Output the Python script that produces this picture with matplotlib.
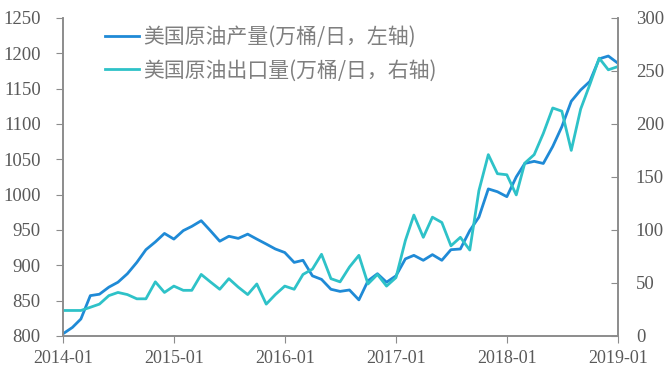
#!/usr/bin/env python3

import numpy as np
import pandas as pd
import matplotlib
matplotlib.use("Agg")
import matplotlib.pyplot as plt
import matplotlib.dates as mdates

#-------------------------------------------------------------
# monthly data, 2014-01 .. 2019-01
months = pd.date_range("2014-01-01", "2019-01-01", freq="MS")

# US crude oil production (10k bbl/day, left axis)
production = [803, 812, 824, 857, 859, 869, 876, 888, 904, 922, 933, 945,
              937, 949, 955, 963, 949, 934, 941, 938, 944, 937, 930, 923,
              918, 904, 907, 885, 880, 866, 863, 865, 851, 878, 888, 876,
              885, 909, 914, 907, 915, 907, 922, 923, 949, 968, 1008, 1004,
              997, 1025, 1044, 1047, 1044, 1068, 1096, 1132, 1148, 1160, 1192, 1196,
              1186]

# US crude oil exports (10k bbl/day, right axis)
exports = [24, 24, 24, 27, 30, 38, 41, 39, 35, 35, 51, 41,
           47, 43, 43, 58, 51, 44, 54, 46, 39, 49, 30, 39,
           47, 44, 58, 63, 77, 54, 51, 65, 76, 49, 58, 47,
           55, 90, 114, 93, 112, 107, 85, 93, 81, 137, 171, 153,
           152, 133, 163, 171, 191, 215, 212, 175, 214, 237, 262, 251,
           254]

label_prod = "美国原油产量(万桶/日，左轴)"
label_exp = "美国原油出口量(万桶/日，右轴)"

left_ticks = [800, 850, 900, 950, 1000, 1050, 1100, 1150, 1200, 1250]
right_ticks = [0, 50, 100, 150, 200, 250, 300]
x_ticks = pd.date_range("2014-01-01", "2019-01-01", freq="YS")

#-------------------------------------------------------------
def main():
    plt.rcParams['font.family'] = ['Liberation Serif', 'Noto Sans CJK SC', 'DejaVu Sans']
    grey = "#595959"
    spine = "#8c8c8c"

    fig = plt.figure(figsize=(6.7, 3.8), dpi=100)
    ax = fig.add_axes([0.094, 0.116, 0.828, 0.837])
    ax2 = ax.twinx()

    l1, = ax.plot(months, production, color="#1f8ad6", lw=2.0,
                  solid_joinstyle="round", label=label_prod)
    l2, = ax2.plot(months, exports, color="#2ec2c8", lw=2.0,
                   solid_joinstyle="round", label=label_exp)

    ax.set_xlim(months[0], months[-1])
    ax.set_ylim(800, 1250)
    ax2.set_ylim(0, 300)
    ax.set_yticks(left_ticks)
    ax2.set_yticks(right_ticks)
    ax.set_xticks(x_ticks)
    ax.xaxis.set_major_formatter(mdates.DateFormatter("%Y-%m"))

    for a in (ax, ax2):
        a.spines["top"].set_visible(False)
        for s in ("left", "right", "bottom"):
            a.spines[s].set_color(spine)
            a.spines[s].set_linewidth(1.2)
    ax.tick_params(axis="y", direction="out", length=5, color=spine,
                   labelsize=13.5, labelcolor=grey, pad=11)
    ax.tick_params(axis="x", direction="out", length=5, color=spine,
                   labelsize=13, labelcolor=grey, pad=5)
    ax2.tick_params(axis="y", direction="in", length=5, color=spine,
                    labelsize=13.5, labelcolor=grey, pad=13)

    leg = ax.legend(handles=[l1, l2], loc="upper left",
                    bbox_to_anchor=(0.05, 1.02), frameon=False,
                    prop={"family": ["Noto Sans CJK SC", "DejaVu Sans"], "size": 15},
                    handlelength=1.6, handletextpad=0.2, labelspacing=0.55,
                    borderaxespad=0.3)
    for t in leg.get_texts():
        t.set_color("#7f7f7f")

    fig.savefig("out.png", dpi=100)
    plt.close(fig)

#-------------------------------------------------------------
if __name__ == "__main__":
    main()
